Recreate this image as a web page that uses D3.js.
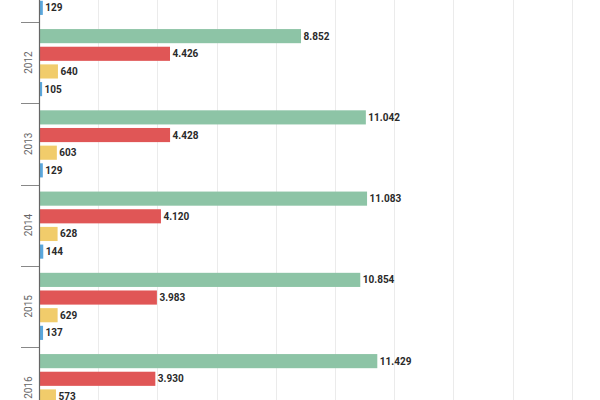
<!DOCTYPE html>
<html>
<head>
<meta charset="utf-8">
<script src="https://cdn.jsdelivr.net/npm/d3@7"></script>
<style>
  body { margin: 0; background: #fff; }
  svg { display: block; font-family: Roboto, "Noto Sans", sans-serif; }
</style>
</head>
<body>
<div id="chart"></div>
<script>
// years shown (2011 and 2016 are cut by the frame)
const years = ["2011", "2012", "2013", "2014", "2015", "2016"];
const seriesKeys = ["a", "b", "c", "d"];
// values per series, one per year; null = outside the visible picture
const seriesA = [null, 8852, 11042, 11083, 10854, 11429];
const seriesB = [null, 4426, 4428, 4120, 3983, 3930];
const seriesC = [null, 640, 603, 628, 629, 573];
const seriesD = [129, 105, 129, 144, 137, null];
const colors = ["#8dc4a6", "#e05656", "#f1cc6b", "#5aa7dc"];
const xTicks = [2000, 4000, 6000, 8000, 10000, 12000, 14000, 16000, 18000, 20000];

const width = 600;
const height = 400;
const marginLeft = 39;
const band = 81.25;
const startY = 22 - band; // 2011 band starts above the frame

const allSeries = [seriesA, seriesB, seriesC, seriesD];
const data = years.map((y, i) => ({
  year: y,
  values: seriesKeys.map((k, j) => ({ key: k, idx: j, value: allSeries[j][i] }))
}));

const fmt = d3.formatLocale({ decimal: ",", thousands: ".", grouping: [3], currency: ["", "€"] }).format(",d");

const x = d3.scaleLinear().domain([0, 20000]).range([marginLeft, marginLeft + 20000 * 0.0296]);
const y0 = d3.scaleBand().domain(years).range([startY, startY + band * years.length]);
const y1 = d3.scaleBand().domain(seriesKeys).range([0, y0.bandwidth()]).paddingInner(0.2).paddingOuter(0.4);

const svg = d3.select("#chart").append("svg")
  .attr("width", width)
  .attr("height", height);

// grid lines
svg.append("g")
  .selectAll("line")
  .data(xTicks)
  .enter()
  .append("line")
  .attr("x1", d => Math.round(x(d)) + 0.5)
  .attr("x2", d => Math.round(x(d)) + 0.5)
  .attr("y1", 0)
  .attr("y2", height)
  .attr("stroke", "#ebebeb")
  .attr("stroke-width", 1);

const g = svg.selectAll(".year")
  .data(data)
  .enter()
  .append("g")
  .attr("class", "year")
  .attr("transform", d => `translate(0,${y0(d.year)})`);

const bars = g.selectAll(".bar")
  .data(d => d.values.filter(v => v.value != null))
  .enter();

bars.append("rect")
  .attr("x", x(0))
  .attr("y", d => y1(d.key))
  .attr("width", d => x(d.value) - x(0))
  .attr("height", y1.bandwidth())
  .attr("fill", d => colors[d.idx]);

bars.append("text")
  .attr("x", d => x(d.value) + 2.5)
  .attr("y", d => y1(d.key) + y1.bandwidth() / 2)
  .attr("dy", "0.35em")
  .attr("font-size", 10)
  .attr("font-weight", "bold")
  .attr("fill", "#2a2a2a")
  .text(d => fmt(d.value));

// year labels, rotated
g.append("text")
  .attr("transform", `translate(28,${y0.bandwidth() / 2}) rotate(-90)`)
  .attr("text-anchor", "middle")
  .attr("dy", "0.35em")
  .attr("font-size", 10)
  .attr("fill", "#666")
  .text(d => d.year);

// tick marks at band boundaries
const bounds = years.map(yr => y0(yr)).concat([y0.range()[1]]);
svg.append("g")
  .selectAll("line")
  .data(bounds)
  .enter()
  .append("line")
  .attr("x1", 21)
  .attr("x2", marginLeft)
  .attr("y1", d => Math.round(d) + 0.5)
  .attr("y2", d => Math.round(d) + 0.5)
  .attr("stroke", "#888")
  .attr("stroke-width", 1);

// axis line
svg.append("line")
  .attr("x1", marginLeft + 0.5)
  .attr("x2", marginLeft + 0.5)
  .attr("y1", 0)
  .attr("y2", height)
  .attr("stroke", "#666")
  .attr("stroke-width", 1.2);
</script>
</body>
</html>
